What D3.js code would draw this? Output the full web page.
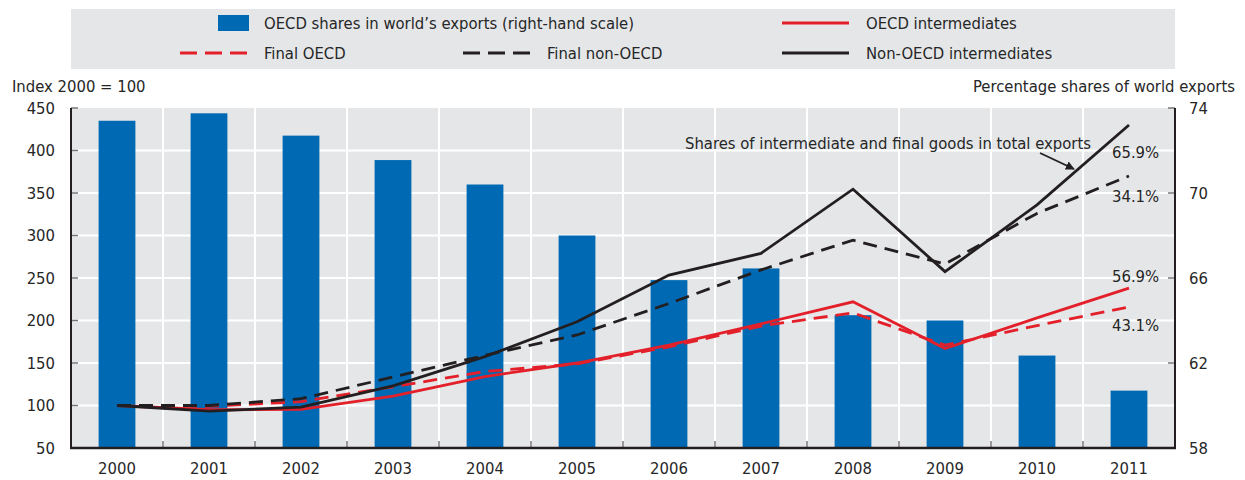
<!DOCTYPE html>
<html>
<head>
<meta charset="utf-8">
<script src="https://cdn.jsdelivr.net/npm/d3@7"></script>
<style>
body { margin: 0; background: #fff; }
svg text { font-family: "Liberation Sans Narrow", "DejaVu Sans Condensed", "Liberation Sans", sans-serif; fill: #262626; }
</style>
</head>
<body>
<svg id="chart"></svg>
<script>
var years = ["2000","2001","2002","2003","2004","2005","2006","2007","2008","2009","2010","2011"]
var oecdShares = [73.4, 73.75, 72.7, 71.55, 70.4, 68.0, 65.9, 66.45, 64.25, 64.0, 62.35, 60.7]
var oecdInter = [100, 95, 95.5, 111, 134, 150, 171, 196, 222, 167, 203, 238]
var finalOecd = [100, 99, 104.5, 122, 140, 149, 169, 193.5, 209, 171, 194, 216]
var finalNonOecd = [100, 100, 108, 133.5, 159, 183, 220, 259.5, 294.5, 266.5, 326, 370]
var nonOecdInter = [100, 93.5, 98, 123, 157.5, 198.5, 253.5, 279, 354.5, 257.5, 336, 430]
var leftTicks = [50, 100, 150, 200, 250, 300, 350, 400, 450]
var rightTicks = [58, 62, 66, 70, 74]
var endLabels = ["65.9%", "34.1%", "56.9%", "43.1%"]

var fontSize = "16.5px"

var screen = {width:1245, height:480}
var margins = {top:108, bottom:32, left:71, right:70}
var graph = {
    width: screen.width-margins.left-margins.right,
    height: screen.height-margins.top-margins.bottom
}

var svg = d3.select("#chart")
    .attr("width",screen.width)
    .attr("height",screen.height)

var xScale = d3.scaleBand()
    .domain(years)
    .range([0,graph.width])

var barScale = d3.scaleBand()
    .domain(years)
    .range([0,graph.width])
    .paddingInner(0.6)
    .paddingOuter(0.3)

var yLeft = d3.scaleLinear()
    .domain([50,450])
    .range([graph.height,0])

var yRight = d3.scaleLinear()
    .domain([58,74])
    .range([graph.height,0])

var mid = function(year) { return xScale(year)+xScale.bandwidth()/2 }

var g = svg.append("g")
    .attr("transform","translate("+margins.left+","+margins.top+")")

g.append("rect")
    .attr("width",graph.width)
    .attr("height",graph.height)
    .attr("fill","#e5e6e8")

// grid
g.selectAll(".hgrid")
    .data(leftTicks.slice(1,-1))
    .enter()
    .append("line")
    .attr("x1",0).attr("x2",graph.width)
    .attr("y1",function(d){return yLeft(d)})
    .attr("y2",function(d){return yLeft(d)})
    .attr("stroke","#fff")
    .attr("stroke-width",2)

g.selectAll(".vgrid")
    .data(years.slice(1))
    .enter()
    .append("line")
    .attr("x1",function(d){return xScale(d)})
    .attr("x2",function(d){return xScale(d)})
    .attr("y1",0).attr("y2",graph.height)
    .attr("stroke","#fff")
    .attr("stroke-width",2)

// bars
g.selectAll(".bar")
    .data(oecdShares)
    .enter()
    .append("rect")
    .attr("x",function(d,i){return barScale(years[i])})
    .attr("width",barScale.bandwidth())
    .attr("y",function(d){return yRight(d)})
    .attr("height",function(d){return graph.height-yRight(d)})
    .attr("fill","#0069b4")

// lines
var series = [
    {values:finalOecd, color:"#e3202a", dash:"14,8"},
    {values:oecdInter, color:"#e3202a", dash:null},
    {values:finalNonOecd, color:"#231f20", dash:"14,8"},
    {values:nonOecdInter, color:"#231f20", dash:null}
]

var lineGenerator = d3.line()
    .x(function(d,i){return mid(years[i])})
    .y(function(d){return yLeft(d)})

g.selectAll(".series")
    .data(series)
    .enter()
    .append("path")
    .attr("d",function(s){return lineGenerator(s.values)})
    .attr("fill","none")
    .attr("stroke",function(s){return s.color})
    .attr("stroke-width",2.8)
    .attr("stroke-dasharray",function(s){return s.dash})

// axes
var leftAxis = d3.axisLeft(yLeft).tickValues(leftTicks).tickSize(0).tickPadding(16)
var rightAxis = d3.axisRight(yRight).tickValues(rightTicks).tickSize(0).tickPadding(14)
var bottomAxis = d3.axisBottom(xScale).tickSize(0).tickPadding(14)

var styleAxis = function(ax)
{
    ax.select(".domain").remove()
    ax.selectAll("text").style("font-size",fontSize)
}

g.append("g").call(leftAxis).call(styleAxis)
g.append("g").attr("transform","translate("+graph.width+",0)").call(rightAxis).call(styleAxis)
g.append("g").attr("transform","translate(0,"+graph.height+")").call(bottomAxis).call(styleAxis)

// inner tick marks
g.selectAll(".ltick")
    .data(leftTicks)
    .enter()
    .append("line")
    .attr("x1",0).attr("x2",7)
    .attr("y1",function(d){return yLeft(d)})
    .attr("y2",function(d){return yLeft(d)})
    .attr("stroke","#777").attr("stroke-width",1.5)

g.selectAll(".rtick")
    .data(rightTicks)
    .enter()
    .append("line")
    .attr("x1",graph.width-7).attr("x2",graph.width)
    .attr("y1",function(d){return yRight(d)})
    .attr("y2",function(d){return yRight(d)})
    .attr("stroke","#777").attr("stroke-width",1.5)

g.selectAll(".btick")
    .data(years.slice(1))
    .enter()
    .append("line")
    .attr("x1",function(d){return xScale(d)})
    .attr("x2",function(d){return xScale(d)})
    .attr("y1",graph.height-7).attr("y2",graph.height)
    .attr("stroke","#777").attr("stroke-width",1.5)

// frame lines
g.append("line").attr("x1",0).attr("x2",0).attr("y1",0).attr("y2",graph.height+1)
    .attr("stroke","#231f20").attr("stroke-width",2)
g.append("line").attr("x1",graph.width).attr("x2",graph.width).attr("y1",0).attr("y2",graph.height+1)
    .attr("stroke","#231f20").attr("stroke-width",2)
g.append("line").attr("x1",-1).attr("x2",graph.width+1).attr("y1",graph.height).attr("y2",graph.height)
    .attr("stroke","#231f20").attr("stroke-width",2.5)

// axis titles
svg.append("text")
    .text("Index 2000 = 100")
    .attr("x",12).attr("y",92)
    .style("font-size",fontSize)

svg.append("text")
    .text("Percentage shares of world exports")
    .attr("x",1235).attr("y",92)
    .attr("text-anchor","end")
    .style("font-size",fontSize)

// annotation
var last = years.length-1
var lx = mid(years[last])-17
var endY = [
    yLeft(nonOecdInter[last])+27,
    yLeft(finalNonOecd[last])+20,
    yLeft(oecdInter[last])-12,
    yLeft(finalOecd[last])+18
]
g.selectAll(".endlabel")
    .data(endLabels)
    .enter()
    .append("text")
    .text(function(d){return d})
    .attr("x",lx)
    .attr("y",function(d,i){return endY[i]})
    .attr("dy","0.35em")
    .style("font-size",fontSize)

g.append("text")
    .text("Shares of intermediate and final goods in total exports")
    .attr("x",1091-margins.left)
    .attr("y",143-margins.top)
    .attr("dy","0.35em")
    .attr("text-anchor","end")
    .style("font-size",fontSize)

svg.append("defs").append("marker")
    .attr("id","arrow")
    .attr("viewBox","0 0 10 10")
    .attr("refX",9).attr("refY",5)
    .attr("markerWidth",5).attr("markerHeight",5)
    .attr("orient","auto")
    .append("path")
    .attr("d","M0,0L10,5L0,10z")
    .attr("fill","#231f20")

g.append("line")
    .attr("x1",1040-margins.left).attr("y1",153-margins.top)
    .attr("x2",1074-margins.left).attr("y2",169-margins.top)
    .attr("stroke","#231f20").attr("stroke-width",1.8)
    .attr("marker-end","url(#arrow)")

// legend
var legend = svg.append("g").classed("legend",true)
legend.append("rect")
    .attr("x",71).attr("y",9)
    .attr("width",1104).attr("height",60)
    .attr("fill","#e5e6e8")

var legendItems = [
    {label:"OECD shares in world\u2019s exports (right-hand scale)", type:"bar", color:"#0069b4", x:218, y:23},
    {label:"OECD intermediates", type:"line", color:"#e3202a", dash:null, x:782, y:23},
    {label:"Final OECD", type:"line", color:"#e3202a", dash:"17,8", x:180, y:53},
    {label:"Final non-OECD", type:"line", color:"#231f20", dash:"17,8", x:463, y:53},
    {label:"Non-OECD intermediates", type:"line", color:"#231f20", dash:null, x:782, y:53}
]

legendItems.forEach(function(item)
{
    var textX
    if (item.type == "bar")
    {
        legend.append("rect")
            .attr("x",item.x).attr("y",item.y-8)
            .attr("width",31).attr("height",16)
            .attr("fill",item.color)
        textX = item.x+46
    }
    else
    {
        legend.append("line")
            .attr("x1",item.x).attr("x2",item.x+67)
            .attr("y1",item.y).attr("y2",item.y)
            .attr("stroke",item.color)
            .attr("stroke-width",3)
            .attr("stroke-dasharray",item.dash)
        textX = item.x+84
    }
    legend.append("text")
        .text(item.label)
        .attr("x",textX).attr("y",item.y)
        .attr("dy","0.35em")
        .style("font-size",fontSize)
})
</script>
</body>
</html>
